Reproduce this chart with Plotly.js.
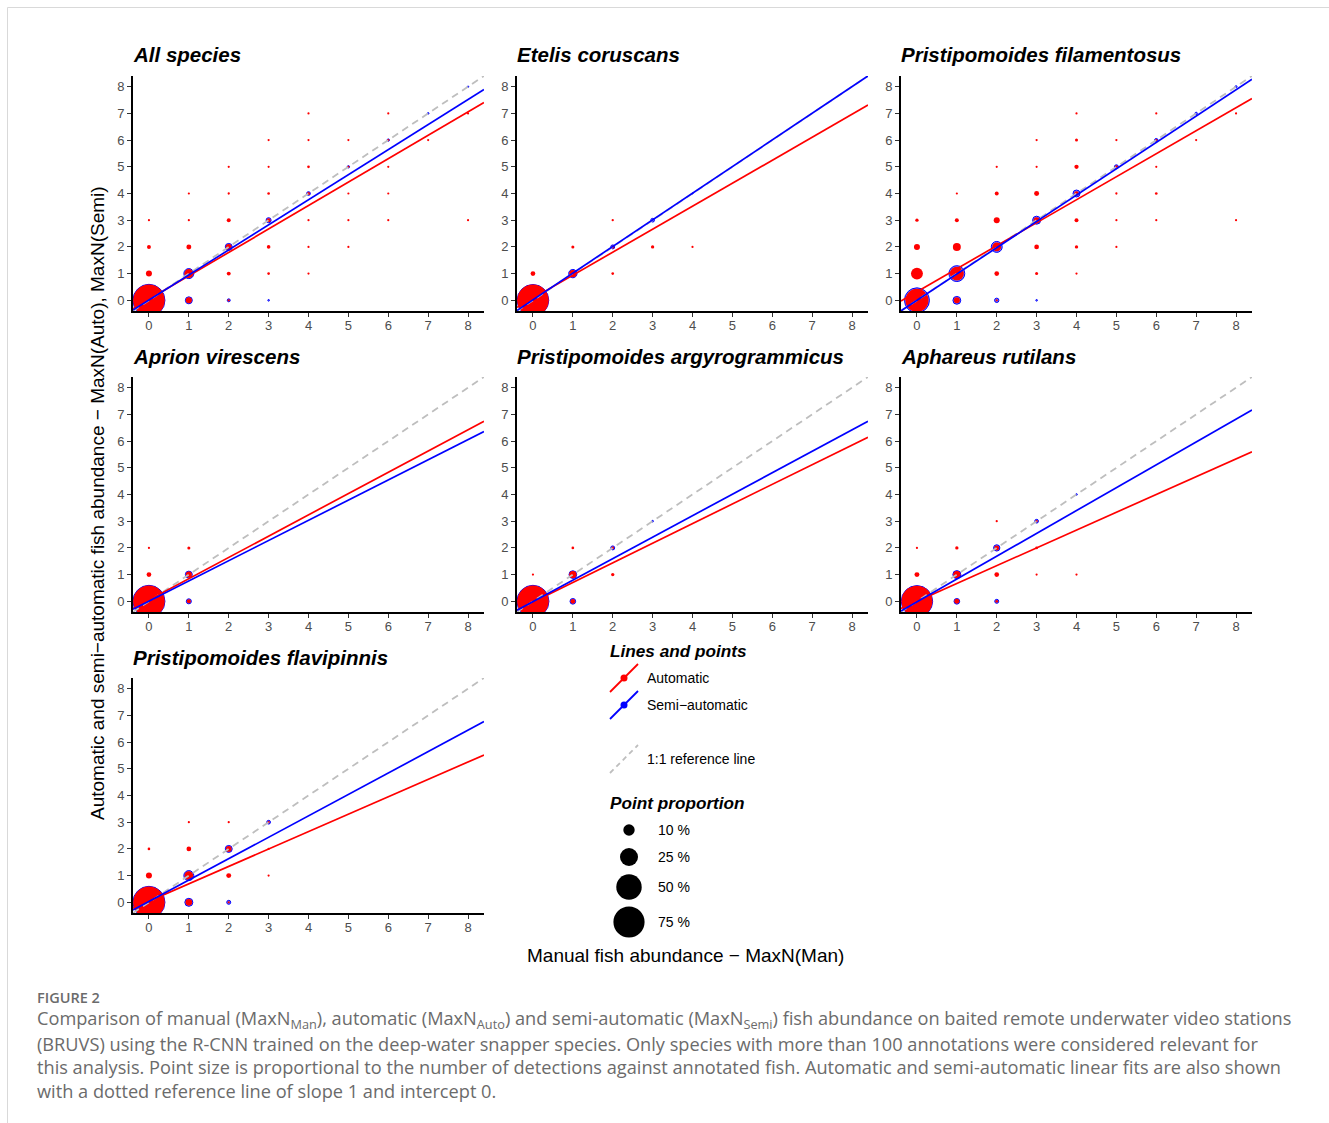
<!DOCTYPE html>
<html>
<head>
<meta charset="utf-8">
<script src="https://cdn.plot.ly/plotly-3.0.1.min.js"></script>
<style>
html,body{margin:0;padding:0;background:#fff;}
#chart{width:1329px;height:1123px;}
</style>
</head>
<body>
<div id="chart"></div>
<script>
// ---------------- DATA ----------------
const species = ['All species', 'Etelis coruscans', 'Pristipomoides filamentosus',
  'Aprion virescens', 'Pristipomoides argyrogrammicus', 'Aphareus rutilans', 'Pristipomoides flavipinnis'];

// points: [manual MaxN, automatic MaxN, proportion %]
const allAuto = [[0,0,77],[0,1,2.8],[0,2,1.2],[0,3,0.3],
  [1,0,2.8],[1,1,6.25],[1,2,1.9],[1,3,0.3],[1,4,0.1],
  [2,0,0.3],[2,1,1.2],[2,2,2.8],[2,3,1.2],[2,4,0.4],[2,5,0.15],
  [3,1,0.55],[3,2,1.0],[3,3,1.2],[3,4,0.55],[3,5,0.15],[3,6,0.15],
  [4,1,0.15],[4,2,0.3],[4,3,0.3],[4,4,0.7],[4,5,0.55],[4,6,0.3],[4,7,0.15],
  [5,2,0.15],[5,3,0.15],[5,4,0.2],[5,5,0.1],[5,6,0.15],
  [6,3,0.15],[6,4,0.2],[6,5,0.1],[6,6,0.1],[6,7,0.15],
  [7,6,0.1],[8,3,0.15],[8,7,0.1]];
// points: [manual MaxN, semi-automatic MaxN, proportion %]
const allSemi = [[0,0,84],[1,0,4.9],[1,1,9.3],[2,0,1.2],[2,2,4.9],[3,0,0.55],[3,3,2.8],
  [4,4,1.7],[5,5,0.86],[6,6,0.86],[7,7,0.55],[8,8,0.45]];

const etelisAuto = [[0,0,77],[0,1,1.7],[1,1,4.1],[1,2,0.7],[2,1,0.55],[2,2,0.7],[2,3,0.4],[3,2,0.86],[4,2,0.3]];
const etelisSemi = [[0,0,82],[1,1,6.7],[2,2,1.9],[3,3,1.7],[4,4,0.3]];

const filamentosusAuto = [[0,0,41],[0,1,11],[0,2,2.8],[0,3,0.85],
  [1,0,2.8],[1,1,15],[1,2,4.9],[1,3,1.2],[1,4,0.15],
  [2,0,0.3],[2,1,1.7],[2,2,6],[2,3,2.8],[2,4,1.2],[2,5,0.15],
  [3,1,0.7],[3,2,1.7],[3,3,2.8],[3,4,1.9],[3,5,0.3],[3,6,0.4],
  [4,1,0.2],[4,2,0.86],[4,3,1.2],[4,4,1.7],[4,5,1.4],[4,6,0.7],[4,7,0.3],
  [5,2,0.2],[5,3,0.2],[5,4,0.4],[5,5,0.7],[5,6,0.4],
  [6,3,0.2],[6,4,0.55],[6,5,0.3],[6,6,0.4],[6,7,0.2],
  [7,6,0.2],[8,3,0.15],[8,7,0.2]];
const filamentosusSemi = [[0,0,52],[1,0,6],[1,1,22],[2,0,2.2],[2,2,11],[3,0,0.55],[3,3,6.25],
  [4,4,4.9],[5,5,1.9],[6,6,1.4],[7,7,0.86],[8,8,0.7]];

const aprionAuto = [[0,0,77],[0,1,1.7],[0,2,0.3],[1,0,1.2],[1,1,2.8],[1,2,0.7]];
const aprionSemi = [[0,0,84],[1,0,2.8],[1,1,4.9]];

const argyroAuto = [[0,0,77],[0,1,0.3],[1,0,1.7],[1,1,4.1],[1,2,0.55],[2,1,0.86],[2,2,0.55]];
const argyroSemi = [[0,0,84],[1,0,3.4],[1,1,5.8],[2,2,1.9],[3,3,0.55]];

const aphareusAuto = [[0,0,74],[0,1,1.9],[0,2,0.3],[1,0,1.9],[1,1,4.1],[1,2,0.86],
  [2,0,0.55],[2,1,1.7],[2,2,1.9],[2,3,0.3],[3,1,0.2],[3,2,0.55],[3,3,0.4],[4,1,0.2]];
const aphareusSemi = [[0,0,81],[1,0,3.4],[1,1,6.25],[2,0,1.9],[2,2,4.1],[3,3,1.7],[4,4,0.55]];

const flavipinnisAuto = [[0,0,77],[0,1,2.8],[0,2,0.55],[1,0,3.4],[1,1,5.8],[1,2,1.7],[1,3,0.2],
  [2,0,0.4],[2,1,1.9],[2,2,2.5],[2,3,0.3],[3,1,0.3],[3,2,0.2],[3,3,0.4]];
const flavipinnisSemi = [[0,0,84],[1,0,6.25],[1,1,9.3],[2,0,1.9],[2,2,4.9],[3,3,1.7]];

const autoSeries = [allAuto, etelisAuto, filamentosusAuto, aprionAuto, argyroAuto, aphareusAuto, flavipinnisAuto];
const semiSeries = [allSemi, etelisSemi, filamentosusSemi, aprionSemi, argyroSemi, aphareusSemi, flavipinnisSemi];

// linear fits (intercept, slope)
const autoIntercept = [0.04, 0.08, 0.32, 0.05, -0.03, 0.0, 0.04];
const autoSlope     = [0.877, 0.861, 0.862, 0.797, 0.735, 0.667, 0.652];
const semiIntercept = [0.01, 0.02, 0.0, 0.01, -0.01, -0.02, 0.03];
const semiSlope     = [0.939, 0.998, 0.986, 0.756, 0.804, 0.855, 0.802];

const tickValues = [0,1,2,3,4,5,6,7,8];
const legendPercents = [10, 25, 50, 75];
const axisRange = [-0.4, 8.4];

// ---------------- LAYOUT ----------------
const W = 1329, H = 1123;
const PX = x => x / W;
const PY = y => 1 - y / H;
const colBox = [[133, 484], [517, 868], [901, 1252]];
const rowBox = [[76, 311], [377, 612], [678, 913]];
const panelPos = [[0,0],[0,1],[0,2],[1,0],[1,1],[1,2],[2,0]];
const FAM = 'Liberation Sans, Arial, sans-serif';

const sizeOf = p => Math.max(2.2, 3.6 * Math.sqrt(p));

const traces = [];
const layout = {
  width: W, height: H,
  margin: {l:0, r:0, t:0, b:0},
  paper_bgcolor: '#fff', plot_bgcolor: '#fff',
  showlegend: false,
  font: {family: FAM, color: '#000'},
  annotations: [], shapes: []
};

species.forEach((name, i) => {
  const [r, c] = panelPos[i];
  const k = i === 0 ? '' : String(i + 1);
  const xa = 'x' + k, ya = 'y' + k;
  const xd = [PX(colBox[c][0]), PX(colBox[c][1])];
  const yd = [PY(rowBox[r][1]), PY(rowBox[r][0])];
  const axBase = {
    range: axisRange, tickvals: tickValues, ticktext: tickValues.map(String),
    ticks: 'outside', ticklen: 4, tickwidth: 1, tickcolor: '#333',
    showline: true, linecolor: '#000', linewidth: 2,
    showgrid: false, zeroline: false, fixedrange: true,
    tickfont: {family: FAM, size: 13, color: '#4d4d4d'}
  };
  layout['xaxis' + k] = Object.assign({}, axBase, {domain: xd, anchor: ya, ticklabelstandoff: -3});
  layout['yaxis' + k] = Object.assign({}, axBase, {domain: yd, anchor: xa});

  const semi = semiSeries[i], auto = autoSeries[i];
  traces.push({
    type: 'scatter', mode: 'markers', xaxis: xa, yaxis: ya,
    x: semi.map(d => d[0]), y: semi.map(d => d[1]),
    marker: {size: semi.map(d => sizeOf(d[2]) - 1), color: 'rgba(40,40,255,0.6)', opacity: 1,
      line: {color: '#0000ff', width: 1}},
    hoverinfo: 'skip'
  });
  traces.push({
    type: 'scatter', mode: 'markers', xaxis: xa, yaxis: ya,
    x: auto.map(d => d[0]), y: auto.map(d => d[1]),
    marker: {size: auto.map(d => sizeOf(d[2])), color: '#ff0000', opacity: 1, line: {width: 0}},
    hoverinfo: 'skip'
  });
  traces.push({
    type: 'scatter', mode: 'lines', xaxis: xa, yaxis: ya,
    x: axisRange, y: axisRange,
    line: {color: '#bebebe', width: 1.8, dash: '7px,5px'}, hoverinfo: 'skip'
  });
  traces.push({
    type: 'scatter', mode: 'lines', xaxis: xa, yaxis: ya,
    x: axisRange, y: axisRange.map(x => autoIntercept[i] + autoSlope[i] * x),
    line: {color: '#ff0000', width: 1.7}, hoverinfo: 'skip'
  });
  traces.push({
    type: 'scatter', mode: 'lines', xaxis: xa, yaxis: ya,
    x: axisRange, y: axisRange.map(x => semiIntercept[i] + semiSlope[i] * x),
    line: {color: '#0000ff', width: 1.7}, hoverinfo: 'skip'
  });

  layout.annotations.push({
    xref: 'paper', yref: 'paper', x: PX(colBox[c][0] - 2), y: PY(rowBox[r][0] - 21),
    xanchor: 'left', yanchor: 'middle', showarrow: false,
    text: '<b><i>' + name + '</i></b>',
    font: {size: 20.5, color: '#000', family: FAM}
  });
});

const ann = (x, y, text, opts) => layout.annotations.push(Object.assign({
  xref: 'paper', yref: 'paper', x: PX(x), y: PY(y), xanchor: 'left', yanchor: 'middle',
  showarrow: false, text: text,
  font: {size: 14, color: '#000', family: FAM}
}, opts || {}));

// axis titles
ann(97, 503, 'Automatic and semi\u2212automatic fish abundance \u2212 MaxN(Auto), MaxN(Semi)',
  {xanchor: 'center', textangle: -90, font: {size: 19, color: '#000', family: FAM}});
ann(685, 955, 'Manual fish abundance \u2212 MaxN(Man)',
  {xanchor: 'center', font: {size: 19, color: '#000', family: FAM}});

// legend
const lx0 = 610;
ann(lx0 - 2, 651, '<b><i>Lines and points</i></b>', {font: {size: 17.2, color: '#000', family: FAM}});
const legLine = (yc, color, dash, dot) => {
  layout.shapes.push({type: 'line', xref: 'paper', yref: 'paper',
    x0: PX(lx0), y0: PY(yc + 14), x1: PX(lx0 + 28), y1: PY(yc - 14),
    line: {color: color, width: 1.8, dash: dash}});
  if (dot) layout.shapes.push({type: 'circle', xref: 'paper', yref: 'paper',
    xsizemode: 'pixel', ysizemode: 'pixel', xanchor: PX(lx0 + 14), yanchor: PY(yc),
    x0: -3.5, x1: 3.5, y0: -3.5, y1: 3.5, fillcolor: color, line: {width: 0}});
};
legLine(678, '#ff0000', 'solid', true);
ann(645, 678, 'Automatic');
legLine(705, '#0000ff', 'solid', true);
ann(645, 705, 'Semi\u2212automatic');
legLine(759, '#bebebe', '5px,4px', false);
ann(645, 759, '1:1 reference line');

ann(lx0 - 2, 803, '<b><i>Point proportion</i></b>', {font: {size: 17.2, color: '#000', family: FAM}});
const legY = [830, 857, 887, 922];
legendPercents.forEach((p, j) => {
  const rr = sizeOf(p) / 2;
  layout.shapes.push({type: 'circle', xref: 'paper', yref: 'paper',
    xsizemode: 'pixel', ysizemode: 'pixel', xanchor: PX(629), yanchor: PY(legY[j]),
    x0: -rr, x1: rr, y0: -rr, y1: rr, fillcolor: '#000', line: {width: 0}});
  ann(656, legY[j], p + ' %');
});

// outer frame
layout.shapes.push({type: 'rect', xref: 'paper', yref: 'paper',
  x0: PX(7.5), y0: PY(1140), x1: PX(1340), y1: PY(7.5),
  line: {color: '#d9d9d9', width: 1}, fillcolor: 'rgba(0,0,0,0)'});

// caption
const capFont = {size: 18.2, color: '#6b6b6b', family: 'Open Sans, Noto Sans, sans-serif'};
ann(35, 997, 'FIGURE 2', {font: {size: 14.5, color: '#6b6b6b', weight: 600, family: 'Open Sans, Noto Sans, sans-serif'}});
const captionLines = [
  'Comparison of manual (MaxN<sub>Man</sub>), automatic (MaxN<sub>Auto</sub>) and semi-automatic (MaxN<sub>Semi</sub>) fish abundance on baited remote underwater video stations',
  '(BRUVS) using the R-CNN trained on the deep-water snapper species. Only species with more than 100 annotations were considered relevant for',
  'this analysis. Point size is proportional to the number of detections against annotated fish. Automatic and semi-automatic linear fits are also shown',
  'with a dotted reference line of slope 1 and intercept 0.'
];
const capY = [1019, 1044, 1067, 1091];
captionLines.forEach((t, j) => ann(35, capY[j], t, {font: capFont}));

Plotly.newPlot('chart', traces, layout, {displayModeBar: false, staticPlot: true});
</script>
</body>
</html>
